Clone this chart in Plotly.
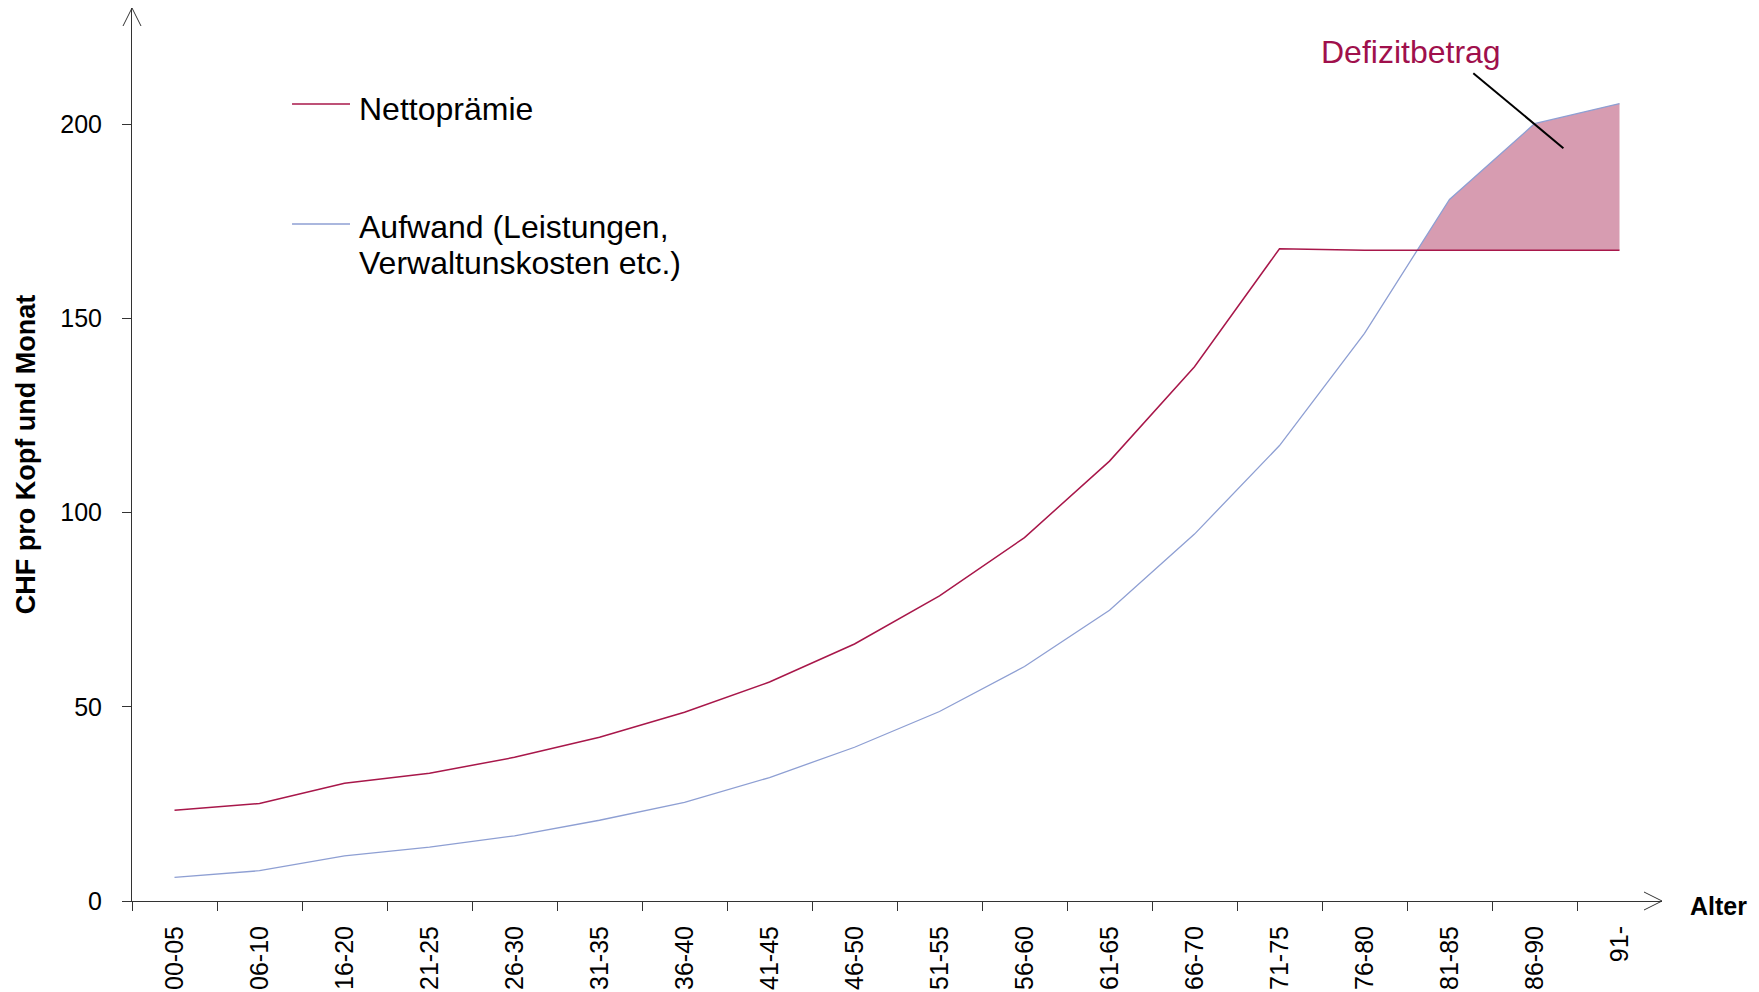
import plotly.graph_objects as go

# ---- data ----
categories = ["00-05", "06-10", "16-20", "21-25", "26-30", "31-35", "36-40", "41-45",
              "46-50", "51-55", "56-60", "61-65", "66-70", "71-75", "76-80", "81-85",
              "86-90", "91-"]
netto = [23.4, 25.1, 30.3, 32.9, 37.0, 42.2, 48.6, 56.4, 66.2, 78.6, 93.6, 113.3,
         137.6, 168.0, 167.6, 167.6, 167.6, 167.6]
aufwand = [6.1, 7.8, 11.6, 13.9, 16.8, 20.8, 25.4, 31.8, 39.6, 48.8, 60.4, 74.9,
           94.5, 117.3, 146.2, 180.7, 200.2, 205.4]
y_ticks = [0, 50, 100, 150, 200]

name_netto = "Nettoprämie"
name_aufwand_lines = ["Aufwand (Leistungen,", "Verwaltunskosten etc.)"]
label_deficit = "Defizitbetrag"

FONT = "Arial, 'Liberation Sans', sans-serif"
C_NETTO = "#A8174A"
C_AUF = "#8E9FD3"
C_FILL = "rgba(202,125,153,0.76)"
C_AXIS = "#333333"

xs = list(range(len(categories)))

# ---- deficit polygon (where Aufwand exceeds Nettoprämie) ----
for i in range(1, len(xs)):
    d0 = aufwand[i - 1] - netto[i - 1]
    d1 = aufwand[i] - netto[i]
    if d0 <= 0 < d1:
        t = -d0 / (d1 - d0)
        cx = xs[i - 1] + t
        cy = netto[i - 1] + t * (netto[i] - netto[i - 1])
        start = i
        break
poly_x = [cx] + xs[start:] + xs[start:][::-1] + [cx]
poly_y = [cy] + aufwand[start:] + netto[start:][::-1] + [cy]

fig = go.Figure()
fig.add_trace(go.Scatter(x=poly_x, y=poly_y, mode="lines", fill="toself",
                         fillcolor=C_FILL, line=dict(width=0), hoverinfo="skip",
                         showlegend=False))
fig.add_trace(go.Scatter(x=xs, y=aufwand, mode="lines", name=" ".join(name_aufwand_lines),
                         line=dict(color=C_AUF, width=1.3), showlegend=False))
fig.add_trace(go.Scatter(x=xs, y=netto, mode="lines", name=name_netto,
                         line=dict(color=C_NETTO, width=1.5), showlegend=False))

shapes = [
    # axis arrow heads
    dict(type="path", xref="paper", yref="paper", xsizemode="pixel", ysizemode="pixel",
         xanchor=0, yanchor=1, path="M -9,-18 L 0,0 L 9,-18",
         line=dict(color=C_AXIS, width=1)),
    dict(type="path", xref="paper", yref="paper", xsizemode="pixel", ysizemode="pixel",
         xanchor=1, yanchor=0, path="M -18,9 L 0,0 L -18,-9",
         line=dict(color=C_AXIS, width=1)),
    # legend samples
    dict(type="line", xref="paper", yref="paper", x0=0.1046, x1=0.1425, y0=0.8925, y1=0.8925,
         line=dict(color=C_NETTO, width=1.5)),
    dict(type="line", xref="paper", yref="paper", x0=0.1046, x1=0.1425, y0=0.758, y1=0.758,
         line=dict(color=C_AUF, width=1.5)),
    # pointer for deficit label
    dict(type="line", xref="x", yref="y", x0=15.28, y0=213.2, x1=16.34, y1=193.9,
         line=dict(color="black", width=2)),
]

LEG_FONT = dict(family=FONT, size=32, color="black")
annotations = [
    dict(text=name_netto, xref="paper", yref="paper", x=0.1470, y=0.887,
         xanchor="left", yanchor="middle", showarrow=False, font=LEG_FONT),
    dict(text=name_aufwand_lines[0], xref="paper", yref="paper", x=0.1470, y=0.7549,
         xanchor="left", yanchor="middle", showarrow=False, font=LEG_FONT),
    dict(text=name_aufwand_lines[1], xref="paper", yref="paper", x=0.1470, y=0.7147,
         xanchor="left", yanchor="middle", showarrow=False, font=LEG_FONT),
    dict(text=label_deficit, xref="x", yref="y", x=14.55, y=218.6,
         xanchor="center", yanchor="middle", showarrow=False,
         font=dict(family=FONT, size=32, color="#A0104C")),
    dict(text="<b>Alter</b>", xref="paper", yref="paper", x=1.0170, y=-0.0056,
         xanchor="left", yanchor="middle", showarrow=False,
         font=dict(family=FONT, size=25, color="black")),
]

fig.update_layout(
    width=1759, height=992,
    margin=dict(l=132, r=97, t=8, b=91, autoexpand=False),
    paper_bgcolor="white", plot_bgcolor="white",
    font=dict(family=FONT, color="black"),
    showlegend=False,
    shapes=shapes, annotations=annotations,
    xaxis=dict(
        type="linear", range=[-0.5, len(categories) - 0.5],
        tickmode="array", tickvals=xs, ticktext=categories,
        ticks="", tickangle=-90, tickfont=dict(size=25, family=FONT),
        ticklabelstandoff=14,
        showline=True, linecolor=C_AXIS, linewidth=1,
        showgrid=False, zeroline=False,
        minor=dict(tickmode="array", tickvals=[x - 0.5 for x in xs],
                   ticks="outside", ticklen=9, tickcolor=C_AXIS, tickwidth=1,
                   showgrid=False),
        fixedrange=True,
    ),
    yaxis=dict(
        range=[0, 230], tickmode="array", tickvals=y_ticks,
        ticks="outside", ticklen=9, tickcolor=C_AXIS, tickwidth=1,
        tickfont=dict(size=25, family=FONT), ticklabelstandoff=15,
        showline=True, linecolor=C_AXIS, linewidth=1,
        showgrid=False, zeroline=False,
        title=dict(text="<b>CHF pro Kopf und Monat</b>", standoff=16,
                   font=dict(size=27, family=FONT)),
        fixedrange=True,
    ),
)

fig.write_html("out.html", config={"displayModeBar": False})
